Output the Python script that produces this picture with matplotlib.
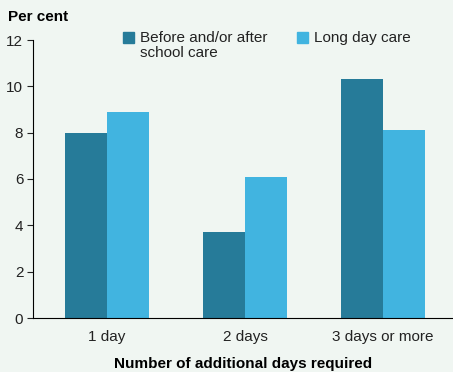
import matplotlib.pyplot as plt
from matplotlib.patches import Rectangle
import numpy as np

plt.rcParams['font.family'] = ['Liberation Sans', 'DejaVu Sans']

categories = ['1 day', '2 days', '3 days or more']
before_after = [8.0, 3.7, 10.3]
long_day = [8.9, 6.1, 8.1]
series_names = ['Before and/or after\nschool care', 'Long day care']

bg = '#f0f6f2'
dark = '#267b99'
light = '#41b4e0'
W, H = 453, 372

fig = plt.figure(figsize=(4.53, 3.72), dpi=100, facecolor=bg)
ax = fig.add_axes([33 / W, 1 - 318 / H, 1 - 33 / W, 278 / H], facecolor=bg)

x = np.arange(len(categories))
w = 0.304
ax.bar(x - w / 2, before_after, w, color=dark)
ax.bar(x + w / 2, long_day, w, color=light)

ax.set_xlim(-0.536, 2.507)
ax.set_ylim(0, 12)
ax.set_yticks(range(0, 13, 2))
ax.set_xticks(x)
ax.set_xticklabels(categories)
ax.tick_params(axis='y', length=4, width=0.8, labelsize=11, pad=3, colors='#222222')
ax.tick_params(axis='x', length=0, labelsize=11, pad=9, colors='#222222')
for s in ['top', 'right']:
    ax.spines[s].set_visible(False)
ax.spines['left'].set_linewidth(0.8)
ax.spines['bottom'].set_linewidth(0.8)

ax.set_xlabel('Number of additional days required', fontsize=11, fontweight='bold', labelpad=9)
fig.text(8 / W, 1 - 17 / H, 'Per cent', fontsize=11, fontweight='bold', va='center', ha='left')

# legend drawn by hand so the square lines up with the first text line
for (px, col, name) in [(123, dark, series_names[0]), (297, light, series_names[1])]:
    fig.patches.append(Rectangle((px / W, 1 - 43 / H), 11 / W, 11 / H, color=col,
                                 transform=fig.transFigure, figure=fig))
    fig.text((px + 17) / W, 1 - 31 / H, name, fontsize=11, va='top', ha='left',
             linespacing=1.05, color='#222222')

fig.savefig('out.png', dpi=100, facecolor=bg)
